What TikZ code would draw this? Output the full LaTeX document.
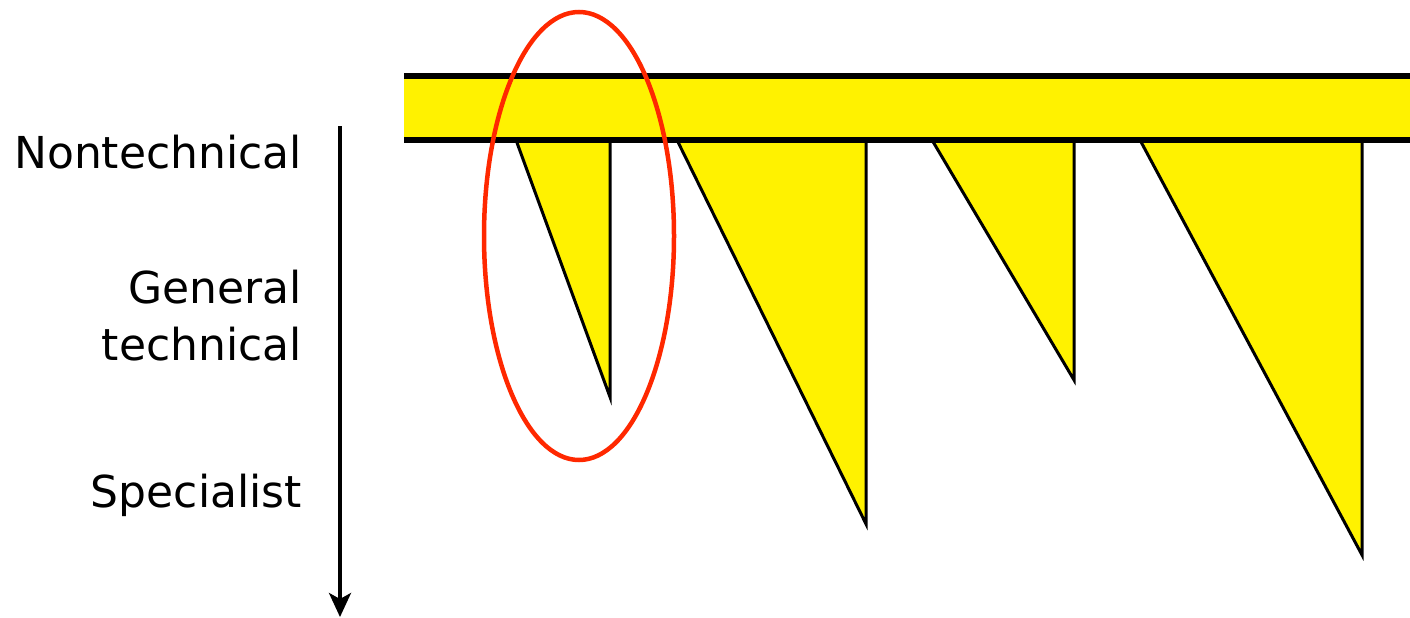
\documentclass[tikz,border=0pt]{standalone}
\usepackage{fontspec}
\setmainfont{DejaVu Sans}
\usetikzlibrary{positioning,arrows.meta}

\begin{document}
\begin{tikzpicture}[
    x=1pt, y=-1pt,
    font=\fontsize{44}{57}\selectfont,
    level/.style={anchor=east, align=right, inner sep=0pt},
    band/.style={fill=yellow, draw=none},
    edge/.style={black, line width=6pt},
    spike/.style={fill=yellow, draw=black, line width=3pt, line join=miter},
    ring/.style={draw={rgb,255:red,255;green,40;blue,0}, line width=4.5pt},
    depth/.style={-{Stealth[length=24pt,width=22pt,inset=6pt]}, line width=3.5pt},
  ]
  \useasboundingbox (0,0) rectangle (1410,618);

  % depth axis
  \coordinate (top) at (340,126);
  \coordinate (bot) at (340,617);
  \draw[depth] (top) -- (bot);

  % levels
  \node[level] (nontech) at (302,152) {Nontechnical};
  \node[level] (gentech) at (302,316) {General\\technical};
  \node[level] (spec) at (302,495) {Specialist};

  % yellow band
  \fill[band] (404,76) rectangle (1410,140);

  % spikes below the band
  \draw[spike] (516,140) -- (610,397) -- (610,140);
  \draw[spike] (677,140) -- (866,524) -- (866,140);
  \draw[spike] (932,140) -- (1074,380) -- (1074,140);
  \draw[spike] (1140,140) -- (1362,555) -- (1362,140);

  \draw[edge] (404,76) -- (1410,76);
  \draw[edge] (404,140) -- (1410,140);

  % highlight
  \draw[ring] (579,236) ellipse [x radius=95, y radius=224];
\end{tikzpicture}
\end{document}
